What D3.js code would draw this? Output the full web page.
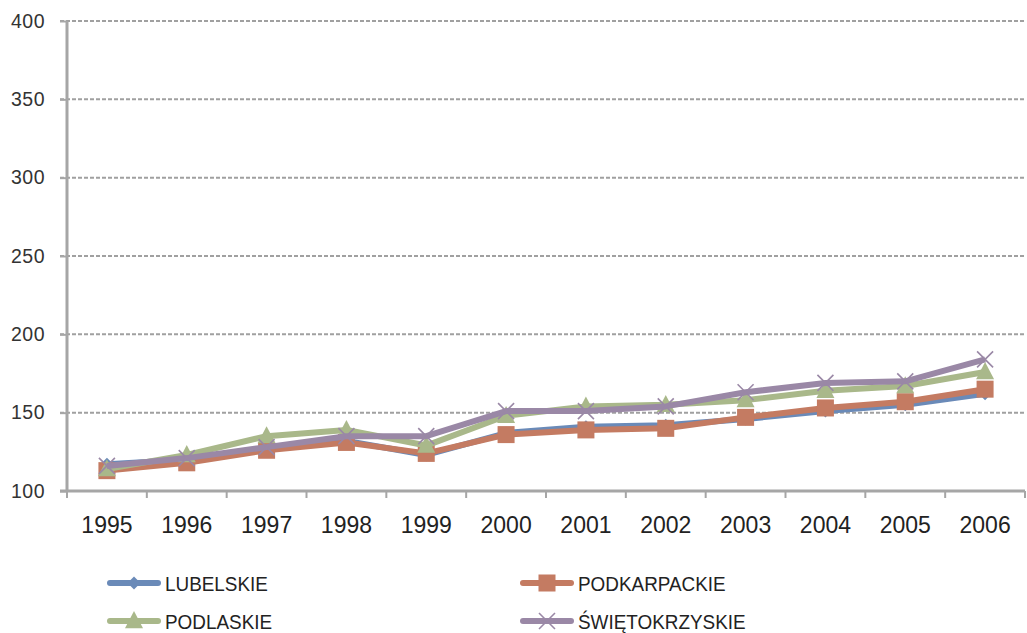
<!DOCTYPE html>
<html><head><meta charset="utf-8">
<script src="https://cdn.jsdelivr.net/npm/d3@7"></script>
<style>body{margin:0;background:#fff}svg{display:block}</style>
</head><body><svg id="c" width="1027" height="633"></svg>
<script>
const years = ["1995","1996","1997","1998","1999","2000","2001","2002","2003","2004","2005","2006"];
const lubelskie = [117,120,127,132,123,137,141,142,146,151,155,162];
const podkarpackie = [113,118,126,131,124,136,139,140,147,153,157,165];
const podlaskie = [114,123,135,139,129,148,154,155,158,164,167,176];
const swietokrzyskie = [116,121,128,135,135,151,151,154,163,169,170,184];
const seriesNames = ["LUBELSKIE","PODKARPACKIE","PODLASKIE","ŚWIĘTOKRZYSKIE"];
const yTicks = [100,150,200,250,300,350,400];

const series = [
  {name: seriesNames[0], values: lubelskie, color: "#6a8ab8", marker: "diamond"},
  {name: seriesNames[1], values: podkarpackie, color: "#c47b62", marker: "square"},
  {name: seriesNames[2], values: podlaskie, color: "#a9b88a", marker: "triangle"},
  {name: seriesNames[3], values: swietokrzyskie, color: "#9a88a6", marker: "x"}
];

const svg = d3.select("#c");
const x = d3.scaleBand().domain(years).range([67, 1025]).padding(0);
const y = d3.scaleLinear().domain([100, 400]).range([491, 21]);

// gridlines
svg.append("g").selectAll("line").data(yTicks.filter(d => d > 100)).join("line")
  .attr("x1", 60).attr("x2", 1025)
  .attr("y1", d => y(d)).attr("y2", d => y(d))
  .attr("stroke", "#a0a0a0").attr("stroke-width", 2).attr("stroke-dasharray", "4,2");

// y axis
const yAxis = svg.append("g").attr("transform", "translate(67,0)")
  .call(d3.axisLeft(y).tickValues(yTicks).tickSize(7).tickPadding(15));
yAxis.select(".domain").attr("stroke", "#a6a6a6").attr("stroke-width", 3).attr("d", "M0,21V491");
yAxis.selectAll(".tick line").attr("stroke", "#a6a6a6").attr("stroke-width", 2);
yAxis.selectAll(".tick text").attr("fill", "#333").style("font-family", "Liberation Sans, Arial, sans-serif").style("font-size", "19.5px").attr("letter-spacing", "0.5");

// x axis
const xAxis = svg.append("g").attr("transform", "translate(0,491)")
  .call(d3.axisBottom(x).tickSize(0).tickPadding(26));
xAxis.select(".domain").attr("stroke", "#a6a6a6").attr("stroke-width", 3).attr("d", "M60,0H1025");
xAxis.selectAll(".tick text").attr("fill", "#222").style("font-family", "Liberation Sans, Arial, sans-serif").style("font-size", "23px");
// category boundary ticks
svg.append("g").selectAll("line").data(years).join("line")
  .attr("x1", d => x(d) + x.bandwidth()).attr("x2", d => x(d) + x.bandwidth())
  .attr("y1", 491).attr("y2", 498).attr("stroke", "#a6a6a6").attr("stroke-width", 2);
svg.append("line").attr("x1", x(years[0])).attr("x2", x(years[0])).attr("y1", 491).attr("y2", 498)
  .attr("stroke", "#a6a6a6").attr("stroke-width", 2);

function drawMarker(g, type, cx, cy, color, s) {
  s = s || 1;
  if (type === "diamond") {
    const r = 6.5 * s;
    g.append("path").attr("d", `M${cx},${cy - r}L${cx + r},${cy}L${cx},${cy + r}L${cx - r},${cy}Z`).attr("fill", color);
  } else if (type === "square") {
    const r = 8.5 * s;
    g.append("rect").attr("x", cx - r).attr("y", cy - r).attr("width", 2 * r).attr("height", 2 * r).attr("fill", color);
  } else if (type === "triangle") {
    const r = 9 * s;
    g.append("path").attr("d", `M${cx},${cy - r * 1.1}L${cx + r},${cy + r * 0.8}L${cx - r},${cy + r * 0.8}Z`).attr("fill", color);
  } else if (type === "x") {
    const r = 8 * s;
    g.append("path").attr("d", `M${cx - r},${cy - r}L${cx + r},${cy + r}M${cx - r},${cy + r}L${cx + r},${cy - r}`)
      .attr("stroke", color).attr("stroke-width", 1.6).attr("fill", "none");
  }
}

const line = d3.line().x((d, i) => x(years[i]) + x.bandwidth() / 2).y(d => y(d));
series.forEach(s => {
  const g = svg.append("g");
  g.append("path").datum(s.values).attr("d", line).attr("fill", "none")
    .attr("stroke", s.color).attr("stroke-width", 6).attr("stroke-linejoin", "round");
  s.values.forEach((v, i) => drawMarker(g, s.marker, x(years[i]) + x.bandwidth() / 2, y(v), s.color));
});

// legend
const legendPos = [[110, 583], [523, 583], [110, 621], [523, 621]];
series.forEach((s, i) => {
  const [lx, ly] = legendPos[i];
  const g = svg.append("g");
  g.append("line").attr("x1", lx).attr("x2", lx + 48).attr("y1", ly).attr("y2", ly)
    .attr("stroke", s.color).attr("stroke-width", 6).attr("stroke-linecap", "round");
  drawMarker(g, s.marker, lx + 24, ly, s.color);
  g.append("text").attr("transform", `translate(${lx + 55},${ly + 8}) scale(0.9,1)`).text(s.name)
    .attr("fill", "#222").style("font-family", "Liberation Sans, Arial, sans-serif").style("font-size", "21px");
});
</script></body></html>
